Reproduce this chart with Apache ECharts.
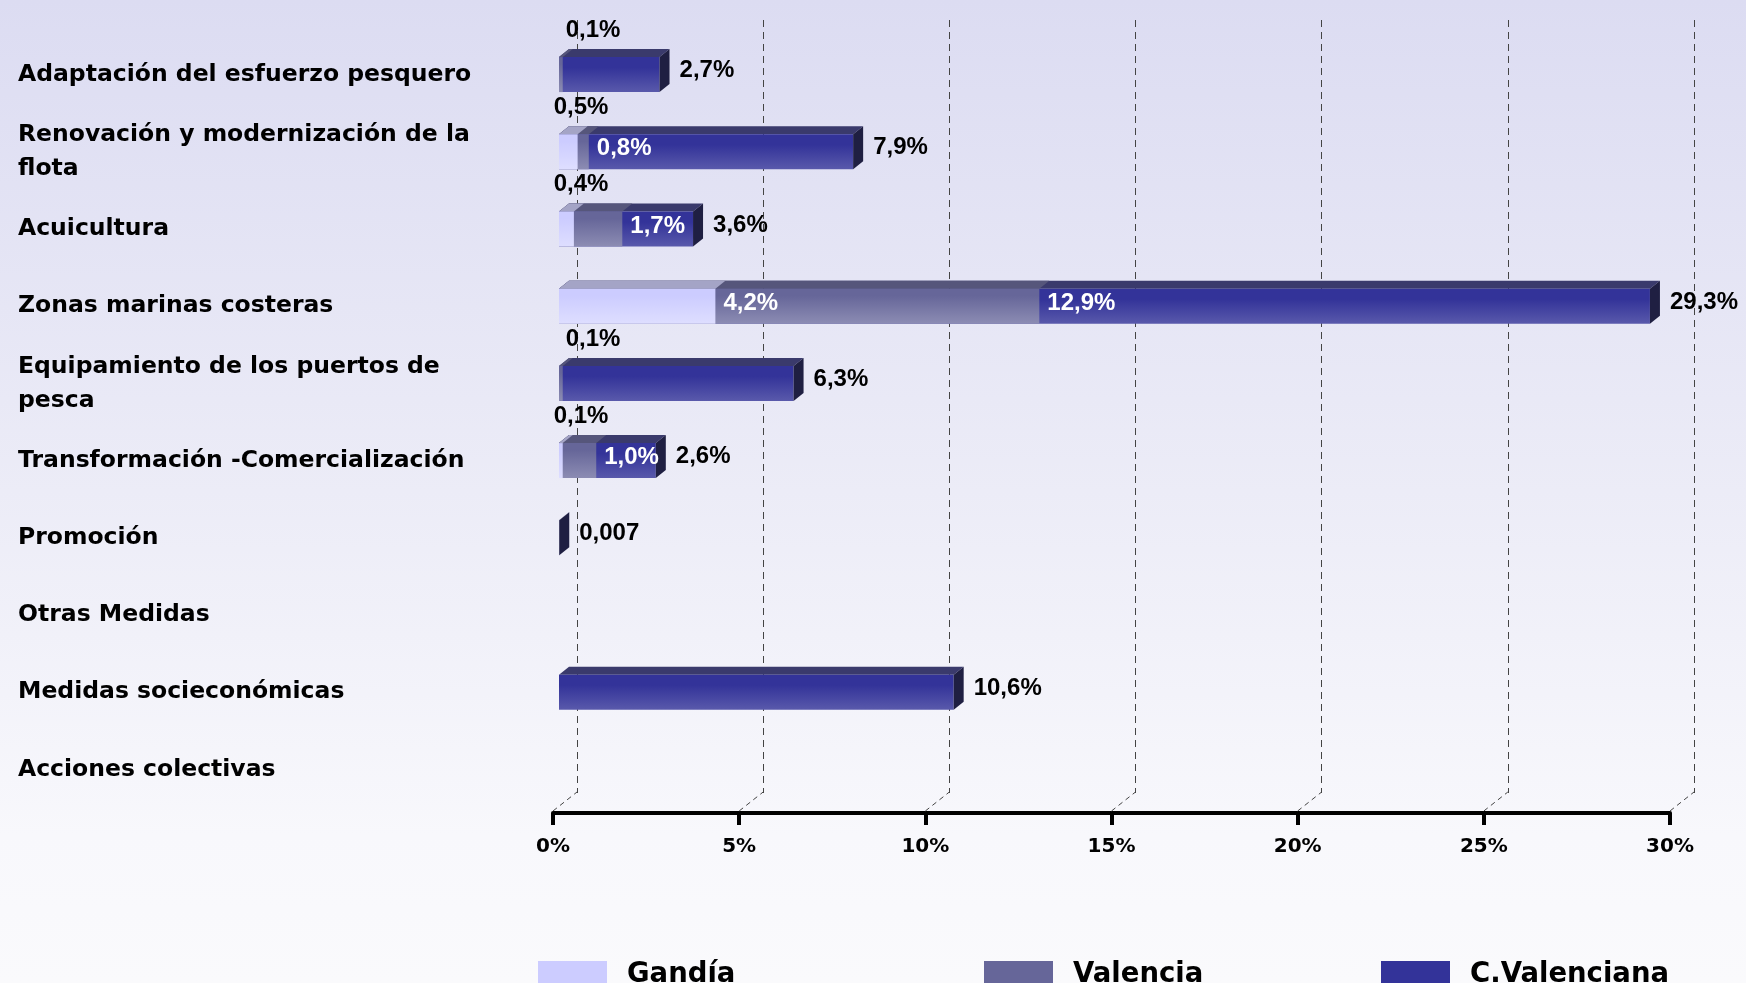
<!DOCTYPE html>
<html>
<head>
<meta charset="utf-8">
<script src="https://cdn.jsdelivr.net/npm/echarts@6/dist/echarts.min.js"></script>
<style>
html,body{margin:0;padding:0;width:100%;height:100%;overflow:hidden;}
#chart{width:1746px;height:983px;}
</style>
</head>
<body>
<div id="chart"></div>
<script>
// ---- data ----
const categories = [
  'Adaptación del esfuerzo pesquero',
  'Renovación y modernización de la\nflota',
  'Acuicultura',
  'Zonas marinas costeras',
  'Equipamiento de los puertos de\npesca',
  'Transformación -Comercialización',
  'Promoción',
  'Otras Medidas',
  'Medidas socieconómicas',
  'Acciones colectivas'
];
const seriesNames = ['Gandía', 'Valencia', 'C.Valenciana'];
const gandia      = [null, 0.5, 0.4, 4.2, null, 0.1, null, null, null, null];
const valencia    = [0.1, 0.8, 1.7, 12.9, 0.1, 1.0, null, null, null, null];
const cValenciana = [2.7, 7.9, 3.6, 29.3, 6.3, 2.6, 0.007, null, 10.6, null];
const xTicks = [0, 5, 10, 15, 20, 25, 30];

// ---- styling ----
const FONT_CAT = 'DejaVu Sans';
const FONT_VAL = 'Liberation Sans';
const DX = 10, DY = 8, BAR_H = 35;
function vgrad(a, b, stop) {
  return {type: 'linear', x: 0, y: 0, x2: 0, y2: 1,
    colorStops: [{offset: 0, color: a}, {offset: stop, color: a}, {offset: 1, color: b}]};
}
const barStyles = {
  'Gandía':       {front: vgrad('#ccccff', '#dedeff', 0.2), top: '#a4a4c6', side: '#8a8ab0', legend: '#ccccff', aboveDx: 22},
  'Valencia':     {front: vgrad('#666699', '#8c8cb3', 0.2), top: '#56567b', side: '#3d3d5e', legend: '#666699', aboveDx: 34},
  'C.Valenciana': {front: vgrad('#333399', '#5959ab', 0.3), top: '#3a3a6c', side: '#1f1f42', legend: '#333399', aboveDx: 30}
};

function fmt(v) {
  if (v < 0.05) return String(v).replace('.', ',');
  return v.toFixed(1).replace('.', ',') + '%';
}

function makeBarSeries(name, values, isBack) {
  const st = barStyles[name];
  return {
    name: name,
    type: 'custom',
    xAxisIndex: 0, yAxisIndex: 0,
    clip: false,
    data: values.map((v, i) => [v, i]),
    encode: {x: 0, y: 1},
    renderItem: function (params, api) {
      const v = api.value(0);
      const i = api.value(1);
      if (v == null || isNaN(v)) return null;
      const p0 = api.coord([0, i]);
      const p1 = api.coord([v, i]);
      const x0 = p0[0], x1 = p1[0];
      const yT = p0[1] - BAR_H / 2, yB = p0[1] + BAR_H / 2;
      const children = [];
      children.push({type: 'polygon', shape: {points: [[x0, yT], [x1, yT], [x1 + DX, yT - DY], [x0 + DX, yT - DY]]},
        style: {fill: st.top}});
      children.push({type: 'rect', shape: {x: x0, y: yT, width: Math.max(x1 - x0, 0.01), height: BAR_H},
        style: {fill: st.front}});
      if (isBack) {
        children.push({type: 'polygon', shape: {points: [[x1, yT], [x1 + DX, yT - DY], [x1 + DX, yB - DY], [x1, yB]]},
          style: {fill: st.side}});
      }
      let tx, ty, fill, align = 'left';
      if (isBack) {
        tx = x1 + 20; ty = p0[1] - 4; fill = '#000';
      } else if (v < 0.6) {
        tx = x0 + st.aboveDx; ty = yT - 27; fill = '#000'; align = 'center';
      } else {
        tx = x1 + 8; ty = p0[1] - 3; fill = '#fff';
      }
      children.push({type: 'text', style: {text: fmt(v), x: tx, y: ty, fill: fill,
        fontFamily: FONT_VAL, fontWeight: 'bold', fontSize: 24, align: align, verticalAlign: 'middle'}});
      return {type: 'group', children: children};
    },
    z: isBack ? 2 : 3
  };
}

const chart = echarts.init(document.getElementById('chart'));
const option = {
  backgroundColor: {type: 'linear', x: 0, y: 0, x2: 0, y2: 1,
    colorStops: [{offset: 0, color: '#dcdcf2'}, {offset: 0.5, color: '#ececf7'}, {offset: 0.85, color: '#f8f8fc'}, {offset: 1, color: '#fafafc'}]},
  animation: false,
  grid: [
    {left: 559, right: 70, top: 36, height: 772},   // bars
    {left: 553, right: 76, top: 41, height: 772},   // front axis
    {left: 577, right: 52, top: 20, height: 773}    // back wall
  ],
  xAxis: [
    {gridIndex: 0, type: 'value', min: 0, max: 30, interval: 5, show: false},
    {gridIndex: 1, type: 'value', min: 0, max: 30, interval: 5,
      axisLine: {show: true, lineStyle: {color: '#000', width: 4}},
      axisTick: {show: true, length: 12, lineStyle: {color: '#000', width: 4}},
      axisLabel: {formatter: '{value}%', margin: 24, color: '#000', fontFamily: FONT_CAT, fontWeight: 'bold', fontSize: 20},
      splitLine: {show: false}},
    {gridIndex: 2, type: 'value', min: 0, max: 30, interval: 5,
      axisLine: {show: false}, axisTick: {show: false}, axisLabel: {show: false},
      splitLine: {show: true, lineStyle: {color: '#444', width: 1, type: [7, 5]}}}
  ],
  yAxis: [
    {gridIndex: 0, type: 'category', data: categories, inverse: true,
      axisLine: {show: false}, axisTick: {show: false}, splitLine: {show: false},
      axisLabel: {align: 'left', margin: 541, color: '#000', fontFamily: FONT_CAT, fontWeight: 'bold',
        fontSize: 23.5, lineHeight: 34}},
    {gridIndex: 1, type: 'value', min: 0, max: 1, show: false},
    {gridIndex: 2, type: 'value', min: 0, max: 1, show: false}
  ],
  legend: seriesNames.map((n, k) => ({
    data: [n],
    left: [538, 984, 1381][k], top: 961, padding: 0,
    itemWidth: 69, itemHeight: 28, icon: 'rect',
    textStyle: {color: '#000', fontFamily: FONT_CAT, fontWeight: 'bold', fontSize: 27.5, padding: [0, 0, 0, 15]},
    selectedMode: false
  })),
  series: [
    makeBarSeries('C.Valenciana', cValenciana, true),
    makeBarSeries('Valencia', valencia, false),
    makeBarSeries('Gandía', gandia, false),
    {
      type: 'custom', xAxisIndex: 1, yAxisIndex: 1, clip: false, silent: true,
      data: xTicks.map(t => [t, 0]),
      renderItem: function (params, api) {
        const p = api.coord([api.value(0), 0]);
        return {type: 'line', shape: {x1: p[0], y1: p[1] - 2, x2: p[0] + 24, y2: p[1] - 21},
          style: {stroke: '#444', lineWidth: 1, lineDash: [5, 4]}};
      }
    }
  ]
};
// colour legend icons
option.series.forEach(s => {
  if (barStyles[s.name]) s.itemStyle = {color: barStyles[s.name].legend};
});
chart.setOption(option);
</script>
</body>
</html>
